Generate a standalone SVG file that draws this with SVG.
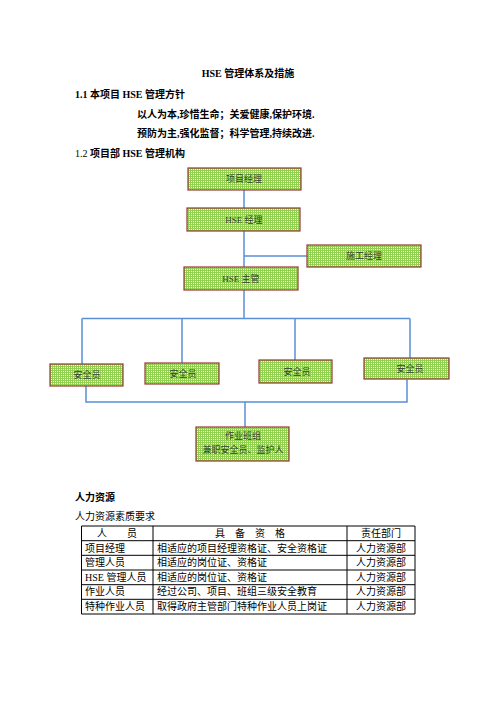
<svg xmlns="http://www.w3.org/2000/svg" width="496" height="702" viewBox="0 0 496 702">
<defs>
<pattern id="dots" width="2" height="2" patternUnits="userSpaceOnUse">
<rect width="2" height="2" fill="#92d050"/>
<rect x="1" y="1" width="1" height="1" fill="#eef8e2"/>
</pattern>
</defs>
<style>
.t{font-family:"Liberation Serif","Noto Sans CJK SC",serif;font-size:10px;fill:#000}
.b{font-weight:bold}
.node rect{fill:url(#dots);stroke:#953735;stroke-width:1.2}
.node text{font-family:"Liberation Serif","Noto Sans CJK SC",serif;font-size:9px;fill:#3a3a3a;text-anchor:middle}
.conn line,.conn polyline{stroke:#5b8fd6;stroke-width:1.5;fill:none}
.grid line{stroke:#000;stroke-width:1}
.c{text-anchor:middle}
</style>
<rect width="496" height="702" fill="#fff"/>
<text class="t b c" x="248" y="77">HSE 管理体系及措施</text>
<text class="t b" x="75" y="98">1.1 本项目 HSE 管理方针</text>
<text class="t b" x="137" y="118">以人为本,珍惜生命；关爱健康,保护环境.</text>
<text class="t b" x="137" y="137">预防为主,强化监督；科学管理,持续改进.</text>
<text class="t" x="75" y="157">1.2 <tspan class="b">项目部 HSE 管理机构</tspan></text>

<g class="conn">
<line x1="244" y1="190" x2="244" y2="208"/>
<line x1="244" y1="231" x2="244" y2="267"/>
<line x1="244" y1="256" x2="307" y2="256"/>
<line x1="244" y1="290" x2="244" y2="318.5"/>
<line x1="82" y1="318.5" x2="410" y2="318.5"/>
<line x1="82" y1="318.5" x2="82" y2="364"/>
<line x1="182" y1="318.5" x2="182" y2="363"/>
<line x1="295" y1="318.5" x2="295" y2="360"/>
<line x1="410" y1="318.5" x2="410" y2="358"/>
<polyline points="86,386 86,402 407,402 407,379.5"/>
<line x1="245" y1="402" x2="245" y2="427"/>
</g>

<g id="n-pm" class="node"><rect x="188" y="168" width="113" height="22"/><text x="244" y="182">项目经理</text></g>
<g id="n-hsem" class="node"><rect x="187" y="208" width="113" height="23"/><text x="244" y="222.5">HSE 经理</text></g>
<g id="n-cm" class="node"><rect x="307" y="245" width="114" height="22"/><text x="364" y="259">施工经理</text></g>
<g id="n-hses" class="node"><rect x="184" y="267" width="114" height="23"/><text x="241" y="281.5">HSE 主管</text></g>
<g id="n-s1" class="node"><rect x="50" y="364" width="73" height="22"/><text x="87" y="378">安全员</text></g>
<g id="n-s2" class="node"><rect x="145" y="363" width="74" height="21"/><text x="183" y="376.5">安全员</text></g>
<g id="n-s3" class="node"><rect x="259" y="360" width="73" height="23"/><text x="297" y="374.5">安全员</text></g>
<g id="n-s4" class="node"><rect x="364" y="358" width="85" height="21"/><text x="410" y="371.5">安全员</text></g>
<g id="n-team" class="node"><rect x="196" y="427" width="93" height="34"/><text x="243" y="439">作业班组</text><text x="243" y="453">兼职安全员、监护人</text></g>

<text class="t b" x="75" y="501">人力资源</text>
<text class="t" x="75" y="520">人力资源素质要求</text>

<g class="grid">
<line x1="81.5" y1="526" x2="415" y2="526"/>
<line x1="81.5" y1="540.7" x2="415" y2="540.7"/>
<line x1="81.5" y1="555.3" x2="415" y2="555.3"/>
<line x1="81.5" y1="570" x2="415" y2="570"/>
<line x1="81.5" y1="584.7" x2="415" y2="584.7"/>
<line x1="81.5" y1="599.3" x2="415" y2="599.3"/>
<line x1="81.5" y1="614" x2="415" y2="614"/>
<line x1="81.5" y1="526" x2="81.5" y2="614"/>
<line x1="153" y1="526" x2="153" y2="614"/>
<line x1="347" y1="526" x2="347" y2="614"/>
<line x1="415" y1="526" x2="415" y2="614"/>
</g>
<g class="t">
<text class="t c" x="117" y="537">人　　员</text>
<text class="t c" x="250" y="537">具　备　资　格</text>
<text class="t c" x="381" y="537">责任部门</text>
<text class="t" x="85" y="551.5">项目经理</text>
<text class="t" x="157" y="551.5">相适应的项目经理资格证、安全资格证</text>
<text class="t c" x="381" y="551.5">人力资源部</text>
<text class="t" x="85" y="566">管理人员</text>
<text class="t" x="157" y="566">相适应的岗位证、资格证</text>
<text class="t c" x="381" y="566">人力资源部</text>
<text class="t" x="85" y="580.7">HSE 管理人员</text>
<text class="t" x="157" y="580.7">相适应的岗位证、资格证</text>
<text class="t c" x="381" y="580.7">人力资源部</text>
<text class="t" x="85" y="595.3">作业人员</text>
<text class="t" x="157" y="595.3">经过公司、项目、班组三级安全教育</text>
<text class="t c" x="381" y="595.3">人力资源部</text>
<text class="t" x="85" y="610">特种作业人员</text>
<text class="t" x="157" y="610">取得政府主管部门特种作业人员上岗证</text>
<text class="t c" x="381" y="610">人力资源部</text>
</g>
</svg>
